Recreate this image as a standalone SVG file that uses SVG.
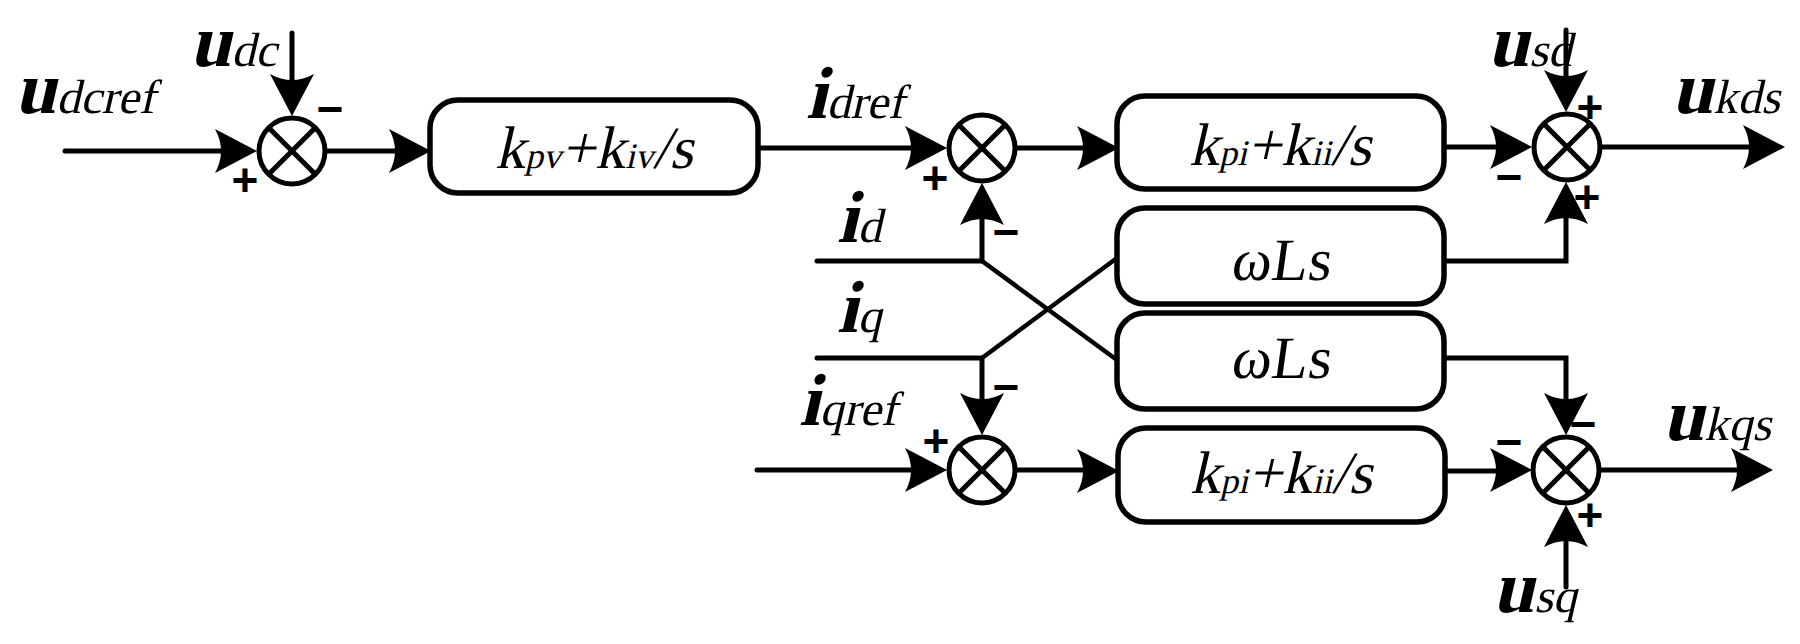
<svg xmlns="http://www.w3.org/2000/svg" width="1800" height="644" viewBox="0 0 1800 644">
<style>
.ln{stroke:#000;stroke-width:5;fill:none;stroke-linecap:round}
.dg{stroke:#000;stroke-width:4.5;fill:none;stroke-linecap:round}
.blk{fill:#fff;stroke:#000;stroke-width:5.5}
.sc{fill:#fff;stroke:#000;stroke-width:5}
.sx{stroke:#000;stroke-width:5}
.t{font-family:"Liberation Serif","Times New Roman",serif;font-style:normal;fill:#000}
.m{font-size:74px;font-weight:bold}
.s{font-size:48px}
.k{font-size:60px}
.ks{font-size:36px}
.sg{font-family:"Liberation Sans",Arial,sans-serif;font-weight:bold;font-size:46px;text-anchor:middle;fill:#000}
</style>
<defs>
<path id="ah" d="M0,0 L-42,-22 Q-30,0 -42,22 Z" fill="#000"/>
<g id="sum">
<circle class="sc" cx="0" cy="0" r="33"/>
<line class="sx" x1="-23.3" y1="-23.3" x2="23.3" y2="23.3"/>
<line class="sx" x1="-23.3" y1="23.3" x2="23.3" y2="-23.3"/>
</g>
</defs>

<g id="connectors">
<path class="ln" d="M65,151 H232"/>
<use href="#ah" transform="translate(257,151)"/>
<path class="ln" d="M292,33 V90"/>
<use href="#ah" transform="translate(292,116) rotate(90)"/>
<path class="ln" d="M326,151 H405"/>
<use href="#ah" transform="translate(431,151)"/>
<path class="ln" d="M758,148 H921"/>
<use href="#ah" transform="translate(947,148)"/>
<path class="ln" d="M1016,148 H1093"/>
<use href="#ah" transform="translate(1119,148)"/>
<path class="ln" d="M1444,147 H1506"/>
<use href="#ah" transform="translate(1532,147)"/>
<path class="ln" d="M1601,147 H1760"/>
<use href="#ah" transform="translate(1785,147)"/>
<path class="ln" d="M1566,30 V86"/>
<use href="#ah" transform="translate(1566,112) rotate(90)"/>
<path class="ln" d="M1444,261 H1566 V207"/>
<use href="#ah" transform="translate(1566,182) rotate(-90)"/>
<path class="ln" d="M1444,358 H1566 V410"/>
<use href="#ah" transform="translate(1566,435) rotate(90)"/>
<path class="ln" d="M1445,471 H1506"/>
<use href="#ah" transform="translate(1532,470)"/>
<path class="ln" d="M1601,470 H1748"/>
<use href="#ah" transform="translate(1773,470)"/>
<path class="ln" d="M1566,587 V530"/>
<use href="#ah" transform="translate(1566,505) rotate(-90)"/>
<path class="ln" d="M817,261 H982 V208"/>
<use href="#ah" transform="translate(982,183) rotate(-90)"/>
<path class="ln" d="M817,358 H982 V410"/>
<use href="#ah" transform="translate(982,435) rotate(90)"/>
<path class="dg" d="M982,261 L1117,360"/>
<path class="dg" d="M982,358 L1117,258"/>
<path class="ln" d="M757,470 H921"/>
<use href="#ah" transform="translate(947,470)"/>
<path class="ln" d="M1016,470 H1093"/>
<use href="#ah" transform="translate(1119,471)"/>
</g>

<g id="sum1"><use href="#sum" transform="translate(292,151)"/>
<text class="sg" x="330" y="125">−</text><text class="sg" x="245" y="196">+</text></g>
<g id="sum2"><use href="#sum" transform="translate(982,148)"/>
<text class="sg" x="935" y="194">+</text><text class="sg" x="1006" y="248">−</text></g>
<g id="sumq"><use href="#sum" transform="translate(982,470)"/>
<text class="sg" x="1006" y="403">−</text><text class="sg" x="936" y="457">+</text></g>
<g id="sum3"><use href="#sum" transform="translate(1567,147)"/>
<text class="sg" x="1590" y="123">+</text><text class="sg" x="1509" y="193">−</text><text class="sg" x="1587" y="213">+</text></g>
<g id="sum4"><use href="#sum" transform="translate(1566,470)"/>
<text class="sg" x="1583" y="440">−</text><text class="sg" x="1509" y="458">−</text><text class="sg" x="1590" y="531">+</text></g>

<g id="blockPV"><rect class="blk" x="430" y="100" width="328" height="93" rx="28"/>
<text class="t" transform="translate(594,168) skewX(-13)" text-anchor="middle"><tspan class="k">k</tspan><tspan class="ks">pv</tspan><tspan class="k">+</tspan><tspan class="k">k</tspan><tspan class="ks">iv</tspan><tspan class="k">/</tspan><tspan class="k">s</tspan></text></g>
<g id="blockPI1"><rect class="blk" x="1117" y="96" width="327" height="93" rx="28"/>
<text class="t" transform="translate(1280,165) skewX(-13)" text-anchor="middle"><tspan class="k">k</tspan><tspan class="ks">pi</tspan><tspan class="k">+</tspan><tspan class="k">k</tspan><tspan class="ks">ii</tspan><tspan class="k">/</tspan><tspan class="k">s</tspan></text></g>
<g id="blockWL1"><rect class="blk" x="1117" y="208" width="327" height="96" rx="28"/>
<text class="t" transform="translate(1280,280) skewX(-8)" text-anchor="middle"><tspan class="k">ωL</tspan><tspan class="k">s</tspan></text></g>
<g id="blockWL2"><rect class="blk" x="1117" y="313" width="327" height="96" rx="28"/>
<text class="t" transform="translate(1280,378) skewX(-8)" text-anchor="middle"><tspan class="k">ωL</tspan><tspan class="k">s</tspan></text></g>
<g id="blockPI2"><rect class="blk" x="1118" y="428" width="327" height="94" rx="28"/>
<text class="t" transform="translate(1281,493) skewX(-13)" text-anchor="middle"><tspan class="k">k</tspan><tspan class="ks">pi</tspan><tspan class="k">+</tspan><tspan class="k">k</tspan><tspan class="ks">ii</tspan><tspan class="k">/</tspan><tspan class="k">s</tspan></text></g>

<g id="labels">
<text class="t" transform="translate(15,113) skewX(-13)"><tspan class="m">u</tspan><tspan class="s">dcref</tspan></text>
<text class="t" transform="translate(190,66) skewX(-13)"><tspan class="m">u</tspan><tspan class="s">dc</tspan></text>
<text class="t" transform="translate(806,118) skewX(-13)"><tspan class="m">i</tspan><tspan class="s">dref</tspan></text>
<text class="t" transform="translate(837,242) skewX(-13)"><tspan class="m">i</tspan><tspan class="s">d</tspan></text>
<text class="t" transform="translate(837,332) skewX(-13)"><tspan class="m">i</tspan><tspan class="s">q</tspan></text>
<text class="t" transform="translate(799,425) skewX(-13)"><tspan class="m">i</tspan><tspan class="s">qref</tspan></text>
<text class="t" transform="translate(1488,66) skewX(-13)"><tspan class="m">u</tspan><tspan class="s">sd</tspan></text>
<text class="t" transform="translate(1672,113) skewX(-13)"><tspan class="m">u</tspan><tspan class="s">kds</tspan></text>
<text class="t" transform="translate(1663,440) skewX(-13)"><tspan class="m">u</tspan><tspan class="s">kqs</tspan></text>
<text class="t" transform="translate(1493,612) skewX(-13)"><tspan class="m">u</tspan><tspan class="s">sq</tspan></text>
</g>
</svg>
